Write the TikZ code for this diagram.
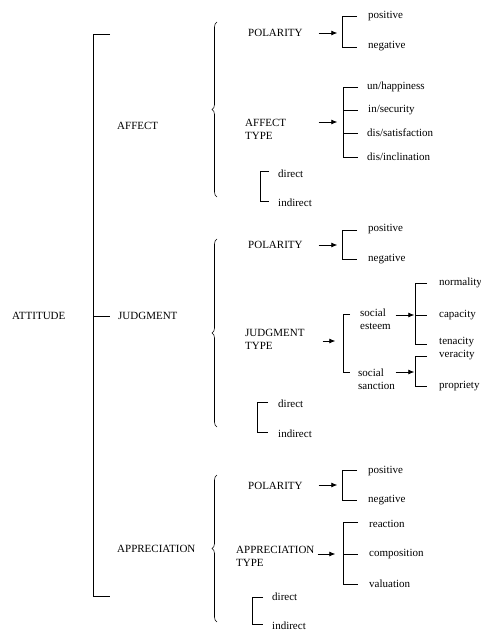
\documentclass[tikz,border=0pt]{standalone}
\usepackage[svgnames]{xcolor}
\usepackage{fontspec}
\setmainfont{Liberation Serif}
\usepackage{tikz}
\usetikzlibrary{decorations.pathreplacing}
\usetikzlibrary{arrows.meta}
\pgfdeclarelayer{edgelayer}
\pgfdeclarelayer{nodelayer}
\pgfsetlayers{edgelayer,nodelayer,main}
\tikzstyle{none}=[inner sep=0pt]
\tikzstyle{lbl}=[inner sep=0pt,anchor=west,align=left,font=\fontsize{11}{13}\selectfont]
\tikzstyle{simple}=[-,draw=Black,line width=0.8pt]
\tikzstyle{arrow}=[-{Latex[length=6pt,width=5pt]},draw=Black,line width=0.8pt]
\tikzstyle{brace}=[-,draw=Black,line width=0.6pt,decorate,decoration={brace,amplitude=5pt}]

\begin{document}
\begin{tikzpicture}[x=1pt,y=-1pt]
	\useasboundingbox (0, 0) rectangle (481, 634);
	\begin{pgfonlayer}{nodelayer}
		\node [style=lbl] (0) at (12, 316) {ATTITUDE};
		\node [style=lbl] (1) at (117, 126) {AFFECT};
		\node [style=lbl] (2) at (118, 316) {JUDGMENT};
		\node [style=lbl] (3) at (117, 549) {APPRECIATION};
		\node [style=none] (4) at (110, 34) {};
		\node [style=none] (5) at (93, 34) {};
		\node [style=none] (6) at (93, 596) {};
		\node [style=none] (7) at (110, 596) {};
		\node [style=none] (8) at (93, 316) {};
		\node [style=none] (9) at (110, 316) {};
		% affect
		\node [style=none] (10) at (217, 197) {};
		\node [style=none] (11) at (217, 22) {};
		\node [style=lbl] (12) at (248, 33) {POLARITY};
		\node [style=none] (13) at (318, 33) {};
		\node [style=none] (14) at (338, 33) {};
		\node [style=none] (15) at (357, 16) {};
		\node [style=none] (16) at (342, 16) {};
		\node [style=none] (17) at (342, 47) {};
		\node [style=none] (18) at (357, 47) {};
		\node [style=lbl] (19) at (368, 16) {positive};
		\node [style=lbl] (20) at (368, 46) {negative};
		\node [style=lbl] (21) at (245, 129) {AFFECT\\TYPE};
		\node [style=none] (22) at (318, 122) {};
		\node [style=none] (23) at (338, 122) {};
		\node [style=none] (24) at (358, 87) {};
		\node [style=none] (25) at (343, 87) {};
		\node [style=none] (26) at (343, 157) {};
		\node [style=none] (27) at (358, 157) {};
		\node [style=none] (28) at (343, 110) {};
		\node [style=none] (29) at (358, 110) {};
		\node [style=none] (30) at (343, 133) {};
		\node [style=none] (31) at (358, 133) {};
		\node [style=lbl] (32) at (367, 87) {un/happiness};
		\node [style=lbl] (33) at (368, 110) {in/security};
		\node [style=lbl] (34) at (367, 133) {dis/satisfaction};
		\node [style=lbl] (35) at (367, 157) {dis/inclination};
		\node [style=none] (36) at (269, 171) {};
		\node [style=none] (37) at (260, 171) {};
		\node [style=none] (38) at (260, 201) {};
		\node [style=none] (39) at (269, 201) {};
		\node [style=lbl] (40) at (278, 174) {direct};
		\node [style=lbl] (41) at (278, 203) {indirect};
		% judgment
		\node [style=none] (42) at (217, 427) {};
		\node [style=none] (43) at (217, 239) {};
		\node [style=lbl] (44) at (248, 245) {POLARITY};
		\node [style=none] (45) at (318, 245) {};
		\node [style=none] (46) at (338, 245) {};
		\node [style=none] (47) at (357, 230) {};
		\node [style=none] (48) at (342, 230) {};
		\node [style=none] (49) at (342, 259) {};
		\node [style=none] (50) at (357, 259) {};
		\node [style=lbl] (51) at (368, 229) {positive};
		\node [style=lbl] (52) at (368, 259) {negative};
		\node [style=lbl] (53) at (245, 339) {JUDGMENT\\TYPE};
		\node [style=none] (54) at (322, 341) {};
		\node [style=none] (55) at (336, 341) {};
		\node [style=none] (56) at (350, 314) {};
		\node [style=none] (57) at (343, 314) {};
		\node [style=none] (58) at (343, 372) {};
		\node [style=none] (59) at (350, 372) {};
		\node [style=lbl] (60) at (360, 319) {social\\esteem};
		\node [style=none] (61) at (395, 315) {};
		\node [style=none] (62) at (415, 315) {};
		\node [style=none] (63) at (427, 283) {};
		\node [style=none] (64) at (415, 283) {};
		\node [style=none] (65) at (415, 344) {};
		\node [style=none] (66) at (427, 344) {};
		\node [style=none] (67) at (427, 315) {};
		\node [style=lbl] (68) at (439, 283) {normality};
		\node [style=lbl] (69) at (439, 315) {capacity};
		\node [style=lbl] (70) at (439, 342) {tenacity};
		\node [style=lbl] (71) at (358, 379) {social\\sanction};
		\node [style=none] (72) at (395, 372) {};
		\node [style=none] (73) at (415, 372) {};
		\node [style=none] (74) at (427, 356) {};
		\node [style=none] (75) at (415, 356) {};
		\node [style=none] (76) at (415, 386) {};
		\node [style=none] (77) at (427, 386) {};
		\node [style=lbl] (78) at (439, 355) {veracity};
		\node [style=lbl] (79) at (439, 386) {propriety};
		\node [style=none] (80) at (268, 402) {};
		\node [style=none] (81) at (257, 402) {};
		\node [style=none] (82) at (257, 432) {};
		\node [style=none] (83) at (268, 432) {};
		\node [style=lbl] (84) at (278, 404) {direct};
		\node [style=lbl] (85) at (278, 434) {indirect};
		% appreciation
		\node [style=none] (86) at (217, 622) {};
		\node [style=none] (87) at (217, 475) {};
		\node [style=lbl] (88) at (248, 486) {POLARITY};
		\node [style=none] (89) at (318, 485) {};
		\node [style=none] (90) at (338, 485) {};
		\node [style=none] (91) at (357, 470) {};
		\node [style=none] (92) at (342, 470) {};
		\node [style=none] (93) at (342, 500) {};
		\node [style=none] (94) at (357, 500) {};
		\node [style=lbl] (95) at (368, 471) {positive};
		\node [style=lbl] (96) at (368, 500) {negative};
		\node [style=lbl] (97) at (236, 556) {APPRECIATION\\TYPE};
		\node [style=none] (98) at (317, 554) {};
		\node [style=none] (99) at (336, 554) {};
		\node [style=none] (100) at (358, 522) {};
		\node [style=none] (101) at (343, 522) {};
		\node [style=none] (102) at (343, 584) {};
		\node [style=none] (103) at (358, 584) {};
		\node [style=none] (104) at (343, 554) {};
		\node [style=none] (105) at (358, 554) {};
		\node [style=lbl] (106) at (369, 524) {reaction};
		\node [style=lbl] (107) at (369, 554) {composition};
		\node [style=lbl] (108) at (369, 584) {valuation};
		\node [style=none] (109) at (263, 597) {};
		\node [style=none] (110) at (252, 597) {};
		\node [style=none] (111) at (252, 624) {};
		\node [style=none] (112) at (263, 624) {};
		\node [style=lbl] (113) at (272, 597) {direct};
		\node [style=lbl] (114) at (272, 626) {indirect};
	\end{pgfonlayer}
	\begin{pgfonlayer}{edgelayer}
		\draw [style=simple] (4.center) to (5.center) to (6.center) to (7.center);
		\draw [style=simple] (8.center) to (9.center);
		\draw [style=brace] (10.center) to (11.center);
		\draw [style=arrow] (13) to (14);
		\draw [style=simple] (15.center) to (16.center) to (17.center) to (18.center);
		\draw [style=arrow] (22) to (23);
		\draw [style=simple] (24.center) to (25.center) to (26.center) to (27.center);
		\draw [style=simple] (28.center) to (29.center);
		\draw [style=simple] (30.center) to (31.center);
		\draw [style=simple] (36.center) to (37.center) to (38.center) to (39.center);
		\draw [style=brace] (42.center) to (43.center);
		\draw [style=arrow] (45) to (46);
		\draw [style=simple] (47.center) to (48.center) to (49.center) to (50.center);
		\draw [style=arrow] (54) to (55);
		\draw [style=simple] (56.center) to (57.center) to (58.center) to (59.center);
		\draw [style=arrow] (61) to (62);
		\draw [style=simple] (63.center) to (64.center) to (65.center) to (66.center);
		\draw [style=simple] (62.center) to (67.center);
		\draw [style=arrow] (72) to (73);
		\draw [style=simple] (74.center) to (75.center) to (76.center) to (77.center);
		\draw [style=simple] (80.center) to (81.center) to (82.center) to (83.center);
		\draw [style=brace] (86.center) to (87.center);
		\draw [style=arrow] (89) to (90);
		\draw [style=simple] (91.center) to (92.center) to (93.center) to (94.center);
		\draw [style=arrow] (98) to (99);
		\draw [style=simple] (100.center) to (101.center) to (102.center) to (103.center);
		\draw [style=simple] (104.center) to (105.center);
		\draw [style=simple] (109.center) to (110.center) to (111.center) to (112.center);
	\end{pgfonlayer}
\end{tikzpicture}
\end{document}
